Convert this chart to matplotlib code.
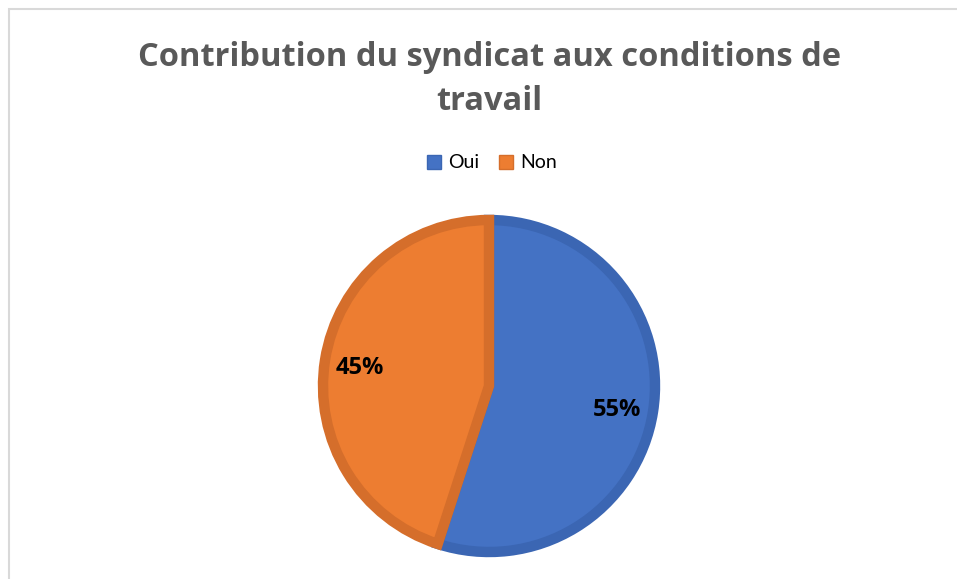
import matplotlib.pyplot as plt
from matplotlib.patches import Rectangle

categories = ["Oui", "Non"]
shares = [55, 45]
colors = ["#4472C4", "#ED7D31"]
edge_colors = ["#3B66B3", "#D56E2B"]
title = "Contribution du syndicat aux conditions de\ntravail"

plt.rcParams['font.family'] = ['Lato', 'DejaVu Sans']

fig = plt.figure(figsize=(9.57, 5.79), dpi=100)

# light chart frame (cut on right and bottom like the reference)
fig.patches.append(Rectangle((9 / 957, -0.05), 1.2, (579 - 9) / 579 + 0.05,
                             transform=fig.transFigure, fill=False,
                             edgecolor="#D9D9D9", linewidth=1.5))

fig.text(489 / 957, 1 - 79.5 / 579, title, ha="center", va="center",
         fontsize=23.5, fontweight="bold", color="#595959", linespacing=1.45,
         family=["Open Sans", "DejaVu Sans"])

# pie area: center (489, 386), radius ~171 px
r = 171
ax = fig.add_axes([(489 - r) / 957, (579 - 386 - r) / 579, 2 * r / 957, 2 * r / 579])
wedges, texts = ax.pie(shares, colors=colors, startangle=90, counterclock=False,
                       radius=1 - 5 / r,
                       wedgeprops=dict(linewidth=7.5, joinstyle="miter"))
for w, ec in zip(wedges, edge_colors):
    w.set_edgecolor(ec)
ax.set_aspect("equal")
ax.set_xlim(-1, 1)
ax.set_ylim(-1, 1)

# percentage labels
label_pos = [(617, 410), (360, 368)]
for (px, py), v in zip(label_pos, shares):
    fig.text(px / 957, 1 - py / 579, f"{v}%", ha="center", va="center",
             fontsize=17, fontweight="bold", color="black",
             family=["Open Sans", "DejaVu Sans"])

handles = [Rectangle((0, 0), 1, 1, facecolor=c, edgecolor=ec)
           for c, ec in zip(colors, edge_colors)]
fig.legend(handles, categories, loc="center", bbox_to_anchor=(492 / 957, 1 - 163 / 579),
           ncol=2, frameon=False, fontsize=14, handlelength=0.7, handleheight=0.7,
           handletextpad=0.4, columnspacing=1.0)

fig.savefig("out.png", dpi=100, facecolor="white")
